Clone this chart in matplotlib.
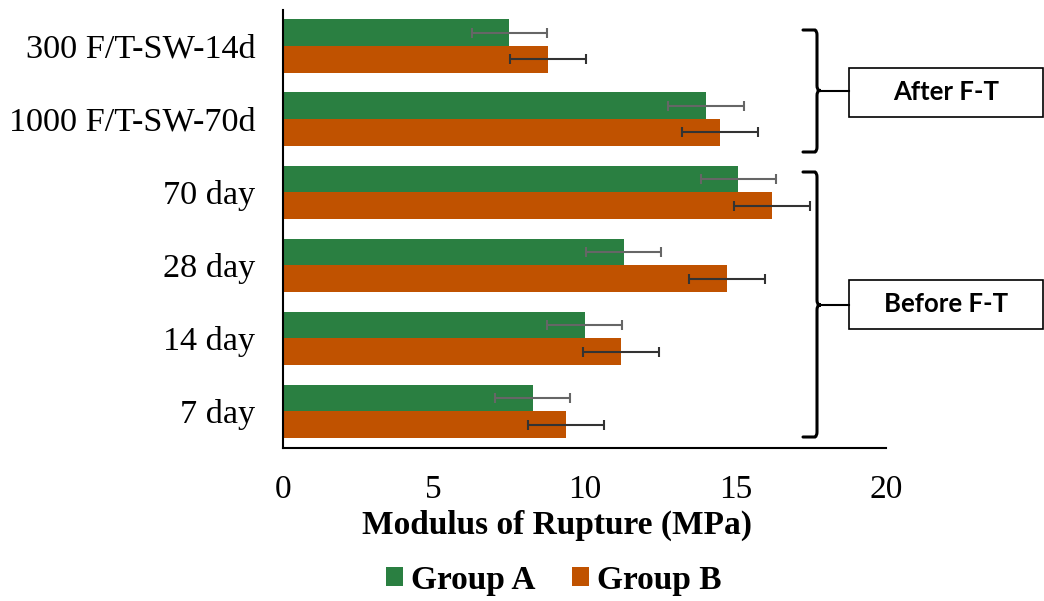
import numpy as np
import matplotlib.pyplot as plt
from matplotlib.path import Path
from matplotlib.patches import PathPatch, Rectangle

# data (bottom to top)
categories = ["7 day", "14 day", "28 day", "70 day", "1000 F/T-SW-70d", "300 F/T-SW-14d"]
group_a = [8.28, 10.0, 11.3, 15.1, 14.03, 7.5]
group_b = [9.38, 11.2, 14.72, 16.23, 14.5, 8.78]
err_a = [1.25, 1.25, 1.25, 1.24, 1.25, 1.24]
err_b = [1.26, 1.26, 1.26, 1.26, 1.27, 1.26]

green = "#2a7f41"
orange = "#c05200"

plt.rcParams["font.family"] = ["Liberation Serif", "DejaVu Serif"]

W, H = 1044, 601
fig = plt.figure(figsize=(W / 100, H / 100), dpi=100)
ax = fig.add_axes([283 / W, 1 - 448 / H, (886 - 283) / W, (448 - 9.5) / H])

y = np.arange(len(categories))
h = 0.365
ax.barh(y + h / 2, group_a, height=h, color=green, label="Group A",
        xerr=err_a, error_kw=dict(ecolor="#666666", elinewidth=1.5, capsize=3.5, capthick=1.5))
ax.barh(y - h / 2, group_b, height=h, color=orange, label="Group B",
        xerr=err_b, error_kw=dict(ecolor="#333333", elinewidth=1.5, capsize=3.5, capthick=1.5))

ax.set_xlim(0, 20)
ax.set_ylim(-0.5, len(categories) - 0.5)
ax.set_xticks([0, 5, 10, 15, 20])
ax.set_yticks(y)
ax.set_yticklabels(categories, fontsize=24.7)
ax.tick_params(axis="both", length=0)
ax.tick_params(axis="x", labelsize=24, pad=19)
ax.tick_params(axis="y", pad=20)
for s in ["top", "right"]:
    ax.spines[s].set_visible(False)
for s in ["left", "bottom"]:
    ax.spines[s].set_linewidth(1.5)
    ax.spines[s].set_color("black")

ax.set_xlabel("Modulus of Rupture (MPa)", fontsize=24, fontweight="bold")
ax.xaxis.set_label_coords((557.5 - 283) / 603, -(510 - 448) / 438.5)

fig.legend(*ax.get_legend_handles_labels(), loc="center",
           bbox_to_anchor=(554 / W, 1 - 580 / H), ncol=2, frameon=False,
           prop=dict(weight="bold", size=24), handlelength=0.5, handleheight=0.5,
           handletextpad=0.25, columnspacing=1.1)


# curly braces in figure pixel coords
def brace(x0, x1, xt, ytop, ybot, ymid):
    def p(x, yy):
        return (x / W, 1 - yy / H)
    r = 5
    verts = [p(x0, ytop), p(x1 - 2, ytop), p(x1, ytop + 1), p(x1, ytop + r),
             p(x1, ymid - r), p(x1, ymid - 1), p(x1 + 2, ymid), p(x1 + 4, ymid),
             p(x1 + 2, ymid), p(x1, ymid + 1), p(x1, ymid + r),
             p(x1, ybot - r), p(x1, ybot - 1), p(x1 - 2, ybot), p(x0, ybot)]
    codes = [Path.MOVETO, Path.LINETO, Path.CURVE3, Path.CURVE3,
             Path.LINETO, Path.CURVE3, Path.CURVE3, Path.LINETO,
             Path.LINETO, Path.CURVE3, Path.CURVE3,
             Path.LINETO, Path.CURVE3, Path.CURVE3, Path.LINETO]
    fig.add_artist(PathPatch(Path(verts, codes), transform=fig.transFigure,
                             fill=False, lw=2.2, edgecolor="black", capstyle="round"))
    fig.add_artist(plt.Line2D([(x1 + 4) / W, xt / W], [1 - ymid / H] * 2,
                              transform=fig.transFigure, color="black", lw=1.5))


def label_box(text, x0, x1, y0, y1):
    fig.add_artist(Rectangle((x0 / W, 1 - y1 / H), (x1 - x0) / W, (y1 - y0) / H,
                             transform=fig.transFigure, fill=False, lw=1.2, edgecolor="black"))
    fig.text((x0 + x1) / 2 / W, 1 - (y0 + y1) / 2 / H, text, ha="center", va="center",
             fontsize=18.5, fontweight="bold", family=["Lato", "DejaVu Sans"])


brace(803, 817, 849, 30, 152, 90.5)
brace(803, 817, 849, 172, 437, 305)
label_box("After F-T", 849, 1043, 68, 117)
label_box("Before F-T", 849, 1043, 280, 329)

fig.savefig("out.png", dpi=100)
